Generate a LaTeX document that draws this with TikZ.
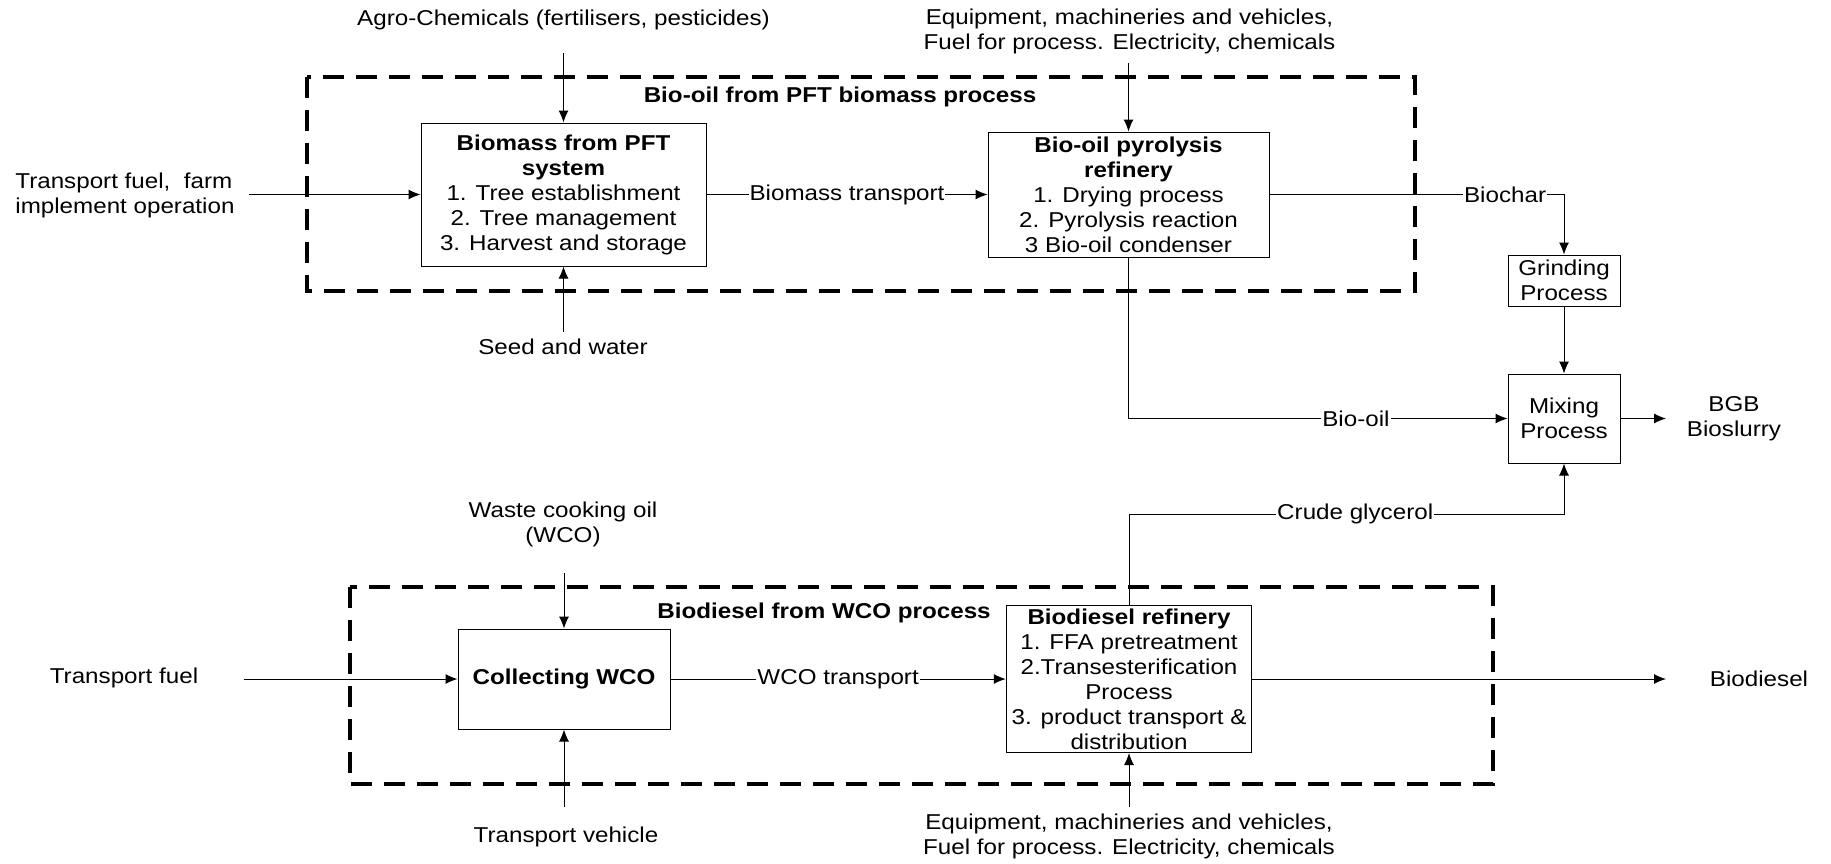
\documentclass[tikz,border=0pt]{standalone}
\usepackage{fontspec}
\setmainfont{Liberation Sans}[FakeStretch=1.125]
\usetikzlibrary{arrows.meta}

\begin{document}
\begin{tikzpicture}[x=.5pt,y=-.5pt,
  font=\fontsize{10.75}{12.5}\selectfont,
  >={Latex[length=6pt,width=5pt]},
  prozess/.style={draw,line width=.5pt,align=center,inner sep=0pt},
  rahmen/.style={line width=1.6pt,dash pattern=on 10.5pt off 6pt},
  etikett/.style={fill=white,inner sep=.5pt},
  verbindung/.style={->,line width=.5pt}]
\useasboundingbox (0,0) rectangle (1831,863);
% Rahmen zeichnen
\draw[rahmen] (307,77) rectangle (1415,291);
\node (rahmenA) at (840,97) {\textbf{Bio-oil from PFT biomass process}};
\draw[rahmen] (350,587) rectangle (1493,784);
\node (rahmenB) at (824,613) {\textbf{Biodiesel from WCO process}};

% Prozesse oben
\node[prozess,minimum width=142.5pt,minimum height=71.5pt] (pft) at (563.5,194.5)
  {\textbf{Biomass from PFT}\\\textbf{system}\\1. Tree establishment\\2. Tree management\\3. Harvest and storage};
\node[prozess,minimum width=140.5pt,minimum height=62.5pt] (oil) at (1128.5,194.5)
  {\textbf{Bio-oil pyrolysis}\\\textbf{refinery}\\1. Drying process\\2. Pyrolysis reaction\\3 Bio-oil condenser};
\node[prozess,minimum width=56pt,minimum height=25.5pt] (grind) at (1564,280.5) {Grinding\\Process};
\node[prozess,minimum width=56pt,minimum height=44.5pt] (mix) at (1564,418.5) {Mixing\\Process};

% Eingaben und Ausgaben oben
\node (agro) at (563.5,20) {Agro-Chemicals (fertilisers, pesticides)};
\node[align=center] (ausrA) at (1129.5,31.5) {Equipment, machineries and vehicles,\\Fuel for process. Electricity, chemicals};
\node[align=left,anchor=west,inner sep=0pt] (farm) at (15,195) {Transport fuel,\ \ farm\\implement operation};
\node (seed) at (563,347) {Seed and water};
\node[align=center] (bgb) at (1734,419) {BGB\\Bioslurry};
\coordinate (agroE) at (563.5,53);
\coordinate (ausrAE) at (1128.5,63);
\coordinate (farmE) at (249,194.5);
\coordinate (seedE) at (563.5,332);
\coordinate (bgbE) at (1666,418.5);
\coordinate (glyk) at (1564,514);

% Prozesse unten
\node[prozess,minimum width=106pt,minimum height=50pt] (col) at (564,679) {\textbf{Collecting WCO}};
\node[prozess,minimum width=122.75pt,minimum height=73.5pt] (bdr) at (1129,679)
  {\textbf{Biodiesel refinery}\\1. FFA pretreatment\\2.Transesterification\\Process\\3. product transport \&\\distribution};

% Eingaben und Ausgaben unten
\node[align=center] (wco) at (563,524.5) {Waste cooking oil\\(WCO)};
\node (fuel) at (124,678) {Transport fuel};
\node (veh) at (566,837) {Transport vehicle};
\node[align=center] (ausrB) at (1129,836.5) {Equipment, machineries and vehicles,\\Fuel for process. Electricity, chemicals};
\node (biod) at (1759,679) {Biodiesel};
\coordinate (wcoE) at (564,573);
\coordinate (fuelE) at (243.5,679);
\coordinate (vehE) at (564,807);
\coordinate (ausrBE) at (1129,807);
\coordinate (biodE) at (1666,679);

% Verbindungen oben
\draw[verbindung] (agroE) -- (pft.north);
\draw[verbindung] (farmE) -- (pft.west);
\draw[verbindung] (seedE) -- (pft.south);
\draw[verbindung] (pft) -- node[etikett] {Biomass transport} (oil);
\draw[verbindung] (ausrAE) -- (oil.north);
\draw[verbindung] (oil.east) -| node[etikett,pos=.4] {Biochar} (grind.north);
\draw[verbindung] (grind) -- (mix);
\draw[verbindung] (oil.south) |- node[etikett,pos=.8] {Bio-oil} (mix.west);
\draw[verbindung] (mix) -- (bgbE);
\draw[verbindung] (bdr.north) |- node[etikett,pos=.76] {Crude glycerol} (glyk) -- (mix.south);

% Verbindungen unten
\draw[verbindung] (wcoE) -- (col.north);
\draw[verbindung] (fuelE) -- (col.west);
\draw[verbindung] (vehE) -- (col.south);
\draw[verbindung] (col) -- node[etikett] {WCO transport} (bdr);
\draw[verbindung] (ausrBE) -- (bdr.south);
\draw[verbindung] (bdr) -- (biodE);
\end{tikzpicture}
\end{document}
